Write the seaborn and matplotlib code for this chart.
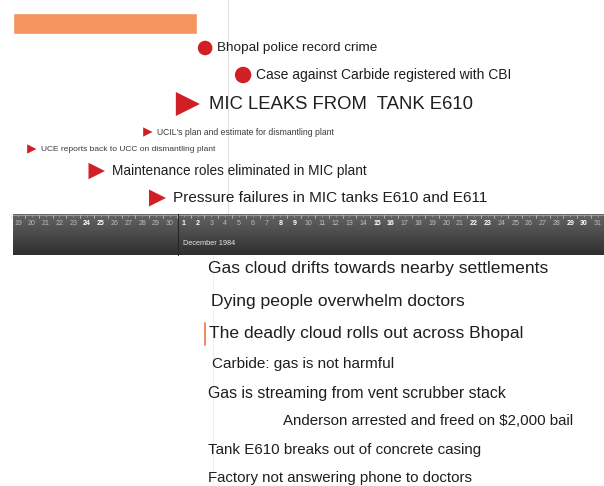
import numpy as np
import pandas as pd
import matplotlib.pyplot as plt
import seaborn as sns

# timeline days (Nov 19 1984 -> Dec 31 1984), day index 0 = Nov 19
dates = pd.date_range("1984-11-19", "1984-12-31")
day_labels = [str(d.day) for d in dates]

# events above the band: label, day position, row, marker
top_labels = ["Bhopal police record crime",
              "Case against Carbide registered with CBI",
              "MIC LEAKS FROM  TANK E610",
              "UCIL's plan and estimate for dismantling plant",
              "UCE reports back to UCC on dismantling plant",
              "Maintenance roles eliminated in MIC plant",
              "Pressure failures in MIC tanks E610 and E611"]
top_days = [13.55, 16.3, 12.3, 9.4, 1.0, 5.7, 10.1]
top_rows = [48, 75, 104, 132, 149, 171, 198]
top_markers = ["o", "o", ">", ">", ">", ">", ">"]

# events below the band
low_labels = ["Gas cloud drifts towards nearby settlements",
              "Dying people overwhelm doctors",
              "The deadly cloud rolls out across Bhopal",
              "Carbide: gas is not harmful",
              "Gas is streaming from vent scrubber stack",
              "Anderson arrested and freed on $2,000 bail",
              "Tank E610 breaks out of concrete casing",
              "Factory not answering phone to doctors"]
low_days = [13.75, 13.97, 13.83, 14.05, 13.75, 19.19, 13.75, 13.75]
low_rows = [268, 301, 333, 364, 393, 421, 450, 478]

# orange range bar at the top
range_start, range_end = -0.36, 12.96

# styling
top_msize = [110, 140, 300, 45, 45, 140, 150]
top_fsize = [9.7, 10, 13.3, 6.2, 6.0, 9.8, 11.1]
low_fsize = [12.6, 12.6, 12.6, 11, 11.4, 10.8, 10.9, 10.8]

sns.set_theme(style="white")
plt.rcParams["font.family"] = ["Liberation Sans", "DejaVu Sans"]

px_per_day = 13.81
x0 = -18 / px_per_day
x1 = (604 - 18) / px_per_day

fig = plt.figure(figsize=(6.04, 4.86), dpi=100)
ax = fig.add_axes([0, 0, 1, 1])
ax.set_xlim(x0, x1)
ax.set_ylim(486, 0)
ax.axis("off")

# faint guide lines
ax.plot([15.2, 15.2], [0, 214], color="#e4e4e4", lw=0.8, zorder=0)
ax.plot([14.1, 14.1], [256, 486], color="#eeeeee", lw=0.8, zorder=0)

# orange range bar
ax.barh(23.5, range_end - range_start, left=range_start, height=21,
        color="#f5945f", zorder=1)

# timeline band with gradient
band_left = (13 - 18) / px_per_day
grad = np.linspace(0, 1, 100).reshape(-1, 1)
cmap = sns.blend_palette(["#636363", "#4a4a4a", "#2e2e2e"], as_cmap=True)
ax.imshow(grad, extent=[band_left, x1, 255, 214], aspect="auto",
          cmap=cmap, zorder=2, interpolation="bilinear")
ax.plot([band_left, x1], [214.5, 214.5], color="#9a9a9a", lw=0.8, zorder=3)
ax.plot([11.6, 11.6], [214, 255], color="#262626", lw=0.8, zorder=3)

for i, (d, lab) in enumerate(zip(dates, day_labels)):
    weekend = d.dayofweek >= 5
    ax.text(i, 223.5, lab, ha="center", va="center", fontsize=5,
            color="#ffffff" if weekend else "#bdbdbd",
            fontweight="bold" if weekend else "normal", zorder=4)
    ax.plot([i - 0.5, i - 0.5], [215, 218], color="#cfcfcf", lw=0.5, zorder=4)
    ax.plot([i, i], [215, 216.5], color="#aaaaaa", lw=0.4, zorder=4)

ax.text(11.95, 243, "December 1984", ha="left", va="center", fontsize=5.3,
        color="#e6e6e6", zorder=4)

# markers above the band
top_df = pd.DataFrame({"day": top_days, "row": top_rows,
                       "marker": top_markers, "size": top_msize})
for m in ["o", ">"]:
    sub = top_df[top_df["marker"] == m]
    sns.scatterplot(data=sub, x="day", y="row", size="size",
                    sizes=(sub["size"].min(), sub["size"].max()),
                    marker=m, color="#d11f26", edgecolor="none",
                    legend=False, ax=ax, zorder=5)

for lab, d, r, ms, mk, fs in zip(top_labels, top_days, top_rows, top_msize,
                                 top_markers, top_fsize):
    half = np.sqrt(ms) * 0.72
    pad = 4 if mk == "o" else half * 0.5 + 2.2
    ax.text(d + (half + pad) / px_per_day, r, lab, ha="left", va="center",
            fontsize=fs, color="#1e1e1e" if fs > 7 else "#3a3a3a", zorder=5)

# texts below the band
for lab, d, r, fs in zip(low_labels, low_days, low_rows, low_fsize):
    ax.text(d, r, lab, ha="left", va="center", fontsize=fs,
            color="#1e1e1e", zorder=5)

# orange marker next to the deadly cloud
ax.plot([13.55, 13.55], [323, 345], color="#f08a5a", lw=1.4, zorder=5)

ax.set_xlim(x0, x1)
ax.set_ylim(486, 0)
fig.savefig("out.png", dpi=100)
